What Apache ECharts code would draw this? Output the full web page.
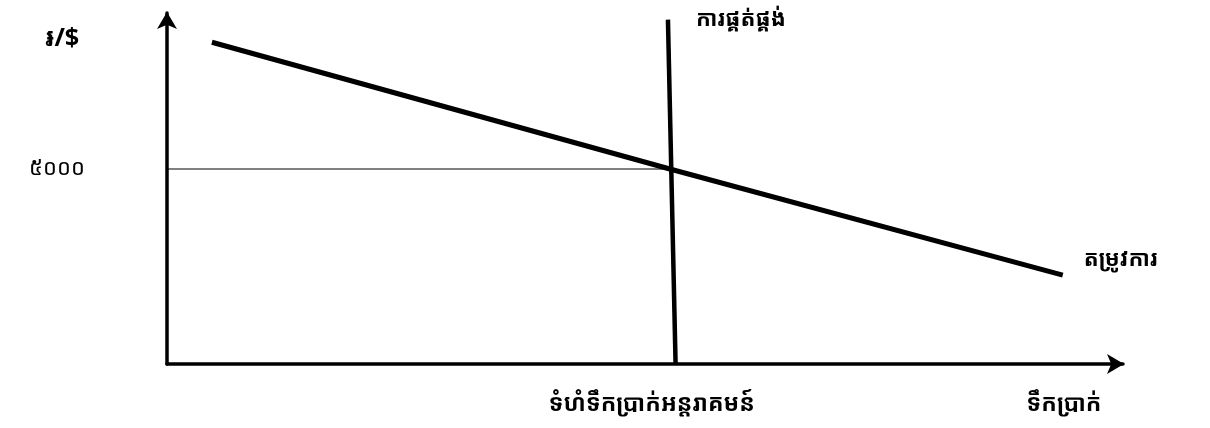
<!DOCTYPE html>
<html>
<head>
<meta charset="utf-8">
<script src="https://cdn.jsdelivr.net/npm/echarts@6/dist/echarts.min.js"></script>
<style>
  html, body { margin: 0; padding: 0; background: #fff; }
  #chart { width: 1210px; height: 428px; }
</style>
</head>
<body>
<div id="chart"></div>
<script>
// demand / supply lines for the exchange market (x: amount of money, y: riel per dollar)
var demandLine = [[4.7, 8250], [52.6, 5000], [93.7, 2280]];
var supplyLine = [[53.2, 0], [52.4, 8830]];
var equilibrium = [52.6, 5000];
var rateTicks = [5000];

var yLabel = '៛/$';
var demandName = 'តម្រូវការ';
var supplyName = 'ការផ្គត់ផ្គង់';
var interventionName = 'ទំហំទឹកប្រាក់អន្តរាគមន៍';
var xName = 'ទឹកប្រាក់';

var khmerFont = '"Khmer OS", "Noto Sans Khmer", "Khmer OS System", "DejaVu Sans", sans-serif';
var khmerDigits = ['០', '១', '២', '៣', '៤', '៥', '៦', '៧', '៨', '៩'];

function toKhmer(n) {
    return String(n).replace(/[0-9]/g, function (d) { return khmerDigits[+d]; });
}

var chart = echarts.init(document.getElementById('chart'));

chart.setOption({
    animation: false,
    grid: { left: 167, right: 87, top: 13, bottom: 64 },
    xAxis: {
        type: 'value',
        min: 0,
        max: 100,
        splitLine: { show: false },
        axisTick: { show: false },
        axisLabel: { show: false },
        axisLine: {
            symbol: ['none', 'arrow'],
            symbolSize: [15, 17],
            symbolOffset: [0, 1],
            lineStyle: { color: '#000', width: 3.5 }
        }
    },
    yAxis: {
        type: 'value',
        min: 0,
        max: 9000,
        splitLine: { show: false },
        axisTick: { show: false },
        axisLabel: {
            customValues: rateTicks,
            formatter: function (v) { return toKhmer(v); },
            margin: 82,
            color: '#000',
            fontSize: 22,
            fontFamily: khmerFont
        },
        axisLine: {
            symbol: ['none', 'arrow'],
            symbolSize: [15, 17],
            symbolOffset: [0, 1],
            lineStyle: { color: '#000', width: 3.5 }
        }
    },
    series: [
        {
            name: 'guide',
            type: 'line',
            data: [[0, equilibrium[1]], equilibrium],
            symbol: 'none',
            lineStyle: { color: '#000', width: 1 },
            z: 1
        },
        {
            name: demandName,
            type: 'line',
            data: demandLine,
            symbol: 'none',
            lineStyle: { color: '#000', width: 5 },
            endLabel: {
                show: true,
                formatter: demandName,
                color: '#000',
                fontSize: 22,
                fontWeight: 'bold',
                fontFamily: khmerFont,
                offset: [13, -15]
            }
        },
        {
            name: supplyName,
            type: 'line',
            data: supplyLine,
            symbol: 'none',
            lineStyle: { color: '#000', width: 4.5 },
            endLabel: {
                show: true,
                formatter: supplyName,
                color: '#000',
                fontSize: 22,
                fontWeight: 'bold',
                fontFamily: khmerFont,
                offset: [20, 0]
            }
        }
    ]
});

// texts placed from the chart's own scale
var pTop = chart.convertToPixel({ gridIndex: 0 }, [0, 9000]);
var pEq = chart.convertToPixel({ gridIndex: 0 }, [equilibrium[0], 0]);
var pEnd = chart.convertToPixel({ gridIndex: 0 }, [100, 0]);

chart.setOption({
    graphic: [
        {
            type: 'text',
            x: pTop[0] - 105,
            y: pTop[1] + 26,
            style: { text: yLabel, fill: '#000', font: 'bold 25px ' + khmerFont, align: 'center', verticalAlign: 'middle' }
        },
        {
            type: 'text',
            x: pEq[0] - 18,
            y: pEq[1] + 40,
            style: { text: interventionName, fill: '#000', font: 'bold 23px ' + khmerFont, align: 'center', verticalAlign: 'middle' }
        },
        {
            type: 'text',
            x: pEnd[0] - 59,
            y: pEnd[1] + 40,
            style: { text: xName, fill: '#000', font: 'bold 23px ' + khmerFont, align: 'center', verticalAlign: 'middle' }
        }
    ]
});
</script>
</body>
</html>
